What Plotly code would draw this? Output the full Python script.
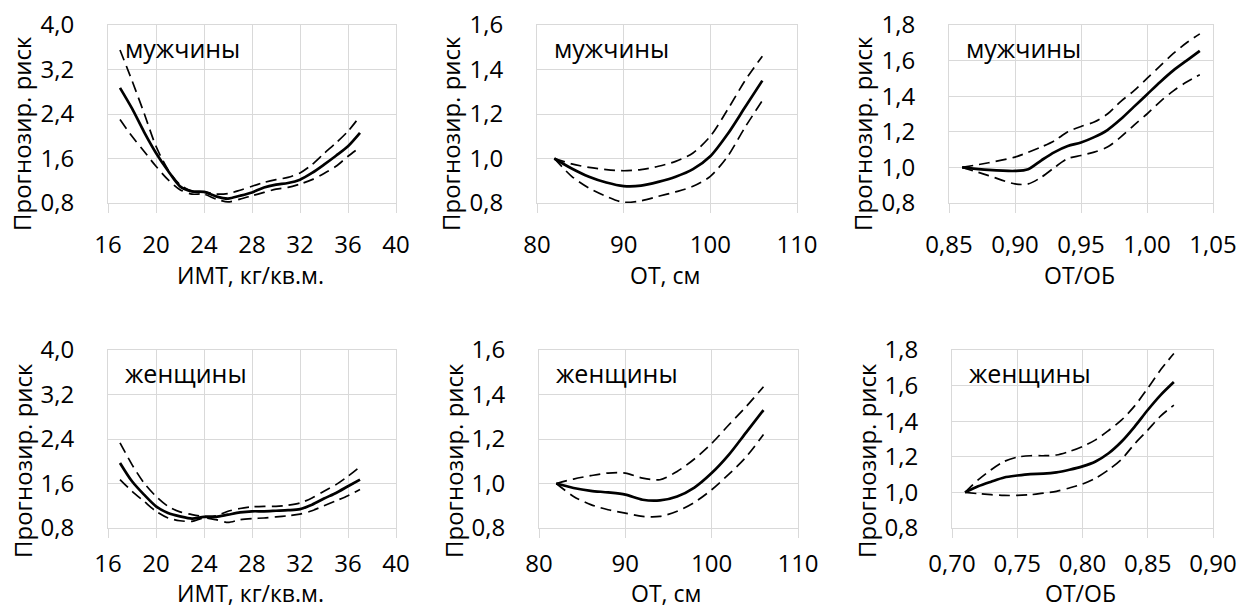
import plotly.graph_objects as go

W, H = 1244, 611

# ---- data ----
bmi_x = [17, 18, 19, 20, 21, 22, 23, 24, 25, 26, 27, 28, 29, 30, 31, 32, 33, 34, 35, 36, 37]
m_bmi = [2.87, 2.50, 2.08, 1.70, 1.38, 1.10, 1.01, 1.00, 0.92, 0.88, 0.93, 0.99, 1.08, 1.13, 1.16, 1.22, 1.34, 1.49, 1.65, 1.82, 2.06]
m_bmi_hi = [3.55, 3.00, 2.42, 1.82, 1.40, 1.13, 1.01, 1.00, 0.96, 0.97, 1.03, 1.10, 1.17, 1.22, 1.26, 1.34, 1.49, 1.69, 1.88, 2.09, 2.36]
m_bmi_lo = [2.30, 2.00, 1.73, 1.46, 1.22, 1.04, 0.96, 0.96, 0.87, 0.82, 0.87, 0.93, 0.99, 1.05, 1.08, 1.14, 1.22, 1.33, 1.46, 1.64, 1.80]

w_bmi = [1.97, 1.64, 1.40, 1.19, 1.07, 1.01, 0.97, 1.00, 1.00, 1.04, 1.08, 1.10, 1.10, 1.11, 1.12, 1.14, 1.22, 1.33, 1.43, 1.55, 1.67]
w_bmi_hi = [2.33, 1.94, 1.61, 1.37, 1.19, 1.09, 1.04, 1.01, 1.02, 1.10, 1.15, 1.18, 1.19, 1.19, 1.21, 1.25, 1.34, 1.46, 1.58, 1.73, 1.90]
w_bmi_lo = [1.67, 1.46, 1.28, 1.10, 0.98, 0.93, 0.92, 0.98, 0.95, 0.90, 0.95, 0.97, 0.98, 1.00, 1.02, 1.05, 1.11, 1.20, 1.29, 1.38, 1.49]

wc_x = [82, 84, 86, 88, 90, 92, 94, 96, 98, 100, 102, 104, 106]
m_wc = [1.00, 0.955, 0.918, 0.892, 0.876, 0.878, 0.895, 0.918, 0.952, 1.01, 1.11, 1.23, 1.35]
m_wc_hi = [1.00, 0.976, 0.96, 0.95, 0.945, 0.95, 0.965, 0.987, 1.025, 1.10, 1.22, 1.35, 1.46]
m_wc_lo = [1.00, 0.92, 0.867, 0.83, 0.803, 0.81, 0.83, 0.85, 0.875, 0.92, 1.01, 1.14, 1.26]

w_wc = [1.00, 0.98, 0.967, 0.96, 0.95, 0.927, 0.924, 0.942, 0.982, 1.047, 1.13, 1.23, 1.33]
w_wc_hi = [1.00, 1.02, 1.035, 1.047, 1.047, 1.024, 1.017, 1.054, 1.11, 1.18, 1.264, 1.346, 1.435]
w_wc_lo = [1.00, 0.942, 0.905, 0.882, 0.867, 0.852, 0.852, 0.875, 0.915, 0.972, 1.042, 1.12, 1.22]

m_whr_x = [0.86, 0.88, 0.90, 0.91, 0.92, 0.93, 0.94, 0.95, 0.96, 0.97, 0.98, 0.99, 1.00, 1.01, 1.02, 1.03, 1.04]
m_whr = [1.00, 0.986, 0.98, 0.99, 1.04, 1.086, 1.12, 1.14, 1.17, 1.21, 1.27, 1.34, 1.41, 1.48, 1.545, 1.60, 1.655]
m_whr_hi = [1.00, 1.026, 1.058, 1.085, 1.115, 1.15, 1.20, 1.23, 1.255, 1.30, 1.37, 1.43, 1.50, 1.57, 1.64, 1.70, 1.75]
m_whr_lo = [1.00, 0.954, 0.907, 0.907, 0.945, 1.00, 1.05, 1.067, 1.086, 1.114, 1.17, 1.236, 1.30, 1.37, 1.43, 1.48, 1.52]

w_whr_x = [0.71, 0.72, 0.73, 0.74, 0.75, 0.76, 0.77, 0.78, 0.79, 0.80, 0.81, 0.82, 0.83, 0.84, 0.85, 0.86, 0.87]
w_whr = [1.00, 1.034, 1.06, 1.084, 1.095, 1.103, 1.105, 1.112, 1.127, 1.146, 1.174, 1.22, 1.286, 1.37, 1.463, 1.548, 1.62]
w_whr_hi = [1.00, 1.07, 1.127, 1.174, 1.198, 1.206, 1.206, 1.21, 1.23, 1.258, 1.295, 1.348, 1.407, 1.486, 1.585, 1.69, 1.78]
w_whr_lo = [1.00, 0.993, 0.987, 0.983, 0.983, 0.987, 0.996, 1.006, 1.025, 1.047, 1.08, 1.127, 1.187, 1.273, 1.35, 1.43, 1.49]

y_title = "Прогнозир. риск"
x_titles = ["ИМТ, кг/кв.м.", "ОТ, см", "ОТ/ОБ", "ИМТ, кг/кв.м.", "ОТ, см", "ОТ/ОБ"]
sex_labels = ["мужчины", "мужчины", "мужчины", "женщины", "женщины", "женщины"]

panels = [
    dict(x=bmi_x, c=m_bmi, hi=m_bmi_hi, lo=m_bmi_lo, xr=[16, 40], xd=4, xf="d", yr=[0.8, 4.0], yd=0.8,
         px=[108, 396], py=[25, 203]),
    dict(x=wc_x, c=m_wc, hi=m_wc_hi, lo=m_wc_lo, xr=[80, 110], xd=10, xf="d", yr=[0.8, 1.6], yd=0.2,
         px=[537, 797], py=[25, 203]),
    dict(x=m_whr_x, c=m_whr, hi=m_whr_hi, lo=m_whr_lo, xr=[0.85, 1.05], xd=0.05, xf=".2f", yr=[0.8, 1.8], yd=0.2,
         px=[949, 1213], py=[25, 203]),
    dict(x=bmi_x, c=w_bmi, hi=w_bmi_hi, lo=w_bmi_lo, xr=[16, 40], xd=4, xf="d", yr=[0.8, 4.0], yd=0.8,
         px=[108, 396], py=[350, 528]),
    dict(x=wc_x, c=w_wc, hi=w_wc_hi, lo=w_wc_lo, xr=[80, 110], xd=10, xf="d", yr=[0.8, 1.6], yd=0.2,
         px=[539, 798], py=[350, 528]),
    dict(x=w_whr_x, c=w_whr, hi=w_whr_hi, lo=w_whr_lo, xr=[0.70, 0.90], xd=0.05, xf=".2f", yr=[0.8, 1.8], yd=0.2,
         px=[952, 1213], py=[350, 528]),
]

FONT = "Open Sans"
FS_TICK = 24
FS_XT = 23
FS_YT = 24
FS_LBL = 25
GRID = "#d9d9d9"

fig = go.Figure()
annotations = []
for i, p in enumerate(panels):
    n = i + 1
    top = n <= 3
    xa = "x" if n == 1 else f"x{n}"
    ya = "y" if n == 1 else f"y{n}"
    for series, w, dash in [(p["hi"], 1.7, "11px,6px"), (p["lo"], 1.7, "11px,6px"), (p["c"], 2.7, "solid")]:
        fig.add_trace(go.Scatter(x=p["x"], y=series, mode="lines", xaxis=xa, yaxis=ya,
                                 line=dict(color="black", width=w, dash=dash, shape="spline", smoothing=0.8),
                                 showlegend=False, hoverinfo="skip"))
    xd = [p["px"][0] / W, p["px"][1] / W]
    yd = [1 - p["py"][1] / H, 1 - p["py"][0] / H]
    fig.layout[f"xaxis{'' if n == 1 else n}"] = dict(
        domain=xd, anchor=ya, range=p["xr"], dtick=p["xd"], tick0=p["xr"][0], automargin=False,
        tickformat=p["xf"], showgrid=True, gridcolor=GRID, gridwidth=1, zeroline=False,
        showline=True, linecolor=GRID, mirror=True, ticks="outside", ticklen=9, tickcolor=GRID,
        tickfont=dict(family=FONT, size=FS_TICK, color="black"),
        ticklabelstandoff=11 if top else 5, fixedrange=True)
    fig.layout[f"yaxis{'' if n == 1 else n}"] = dict(
        domain=yd, anchor=xa, range=p["yr"], dtick=p["yd"], tick0=p["yr"][0], tickformat=".1f",
        automargin=False,
        showgrid=True, gridcolor=GRID, gridwidth=1, zeroline=False,
        showline=True, linecolor=GRID, mirror=True, ticks="",
        tickfont=dict(family=FONT, size=FS_TICK, color="black"), ticklabelstandoff=28, fixedrange=True)
    annotations.append(dict(text=y_title, textangle=-90, xref="paper", yref="paper",
                            x=(p["px"][0] - 86) / W, y=1 - (134 if top else 461) / H,
                            showarrow=False, xanchor="center", yanchor="middle",
                            font=dict(family=FONT, size=FS_YT, color="black")))
    if top:
        annotations.append(dict(text=x_titles[i], xref="paper", yref="paper",
                                x=(sum(p["px"]) / 2 - 2) / W, y=1 - 275 / H,
                                showarrow=False, xanchor="center", yanchor="middle",
                                font=dict(family=FONT, size=FS_XT, color="black")))
    else:
        annotations.append(dict(text=x_titles[i], xref="paper", yref="paper",
                                x=(sum(p["px"]) / 2 - 2) / W, y=0,
                                showarrow=False, xanchor="center", yanchor="bottom",
                                font=dict(family=FONT, size=FS_XT, color="black")))
    annotations.append(dict(text=sex_labels[i], xref="paper", yref="paper",
                            x=(p["px"][0] + 15) / W, y=1 - (p["py"][0] + 23) / H,
                            showarrow=False, xanchor="left", yanchor="middle",
                            font=dict(family=FONT, size=FS_LBL, color="black")))

fig.update_layout(width=W, height=H, margin=dict(l=0, r=0, t=0, b=0),
                  paper_bgcolor="white", plot_bgcolor="white", separators=", ",
                  annotations=annotations, showlegend=False)
fig.write_html("out.html", config={"displayModeBar": False})
